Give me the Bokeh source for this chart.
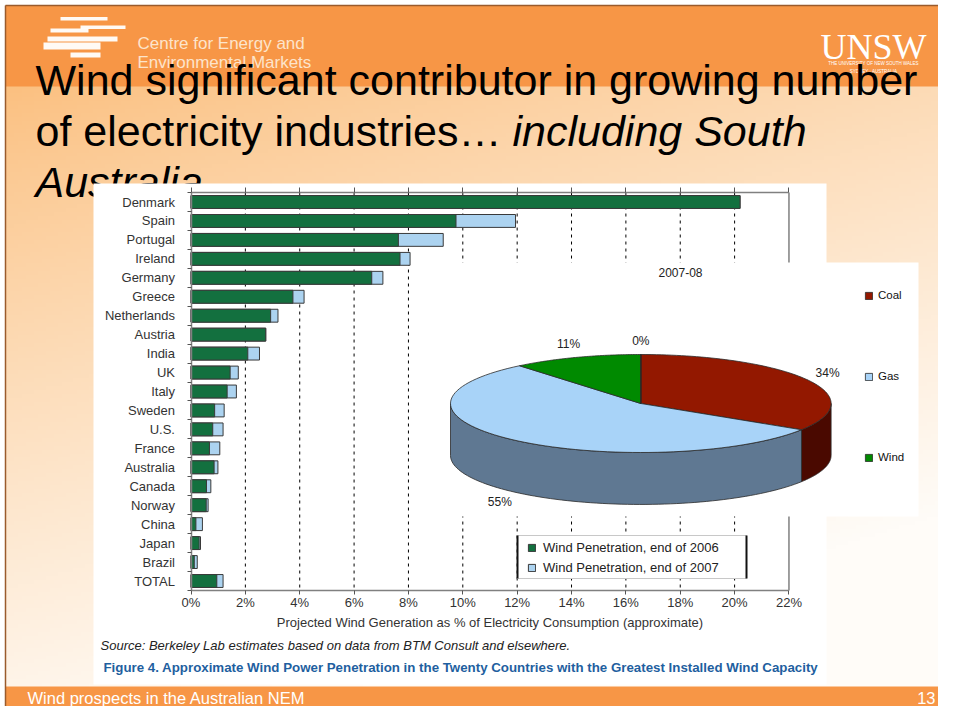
import numpy as np
from bokeh.plotting import figure
from bokeh.models import (Range1d, LinearAxis, FixedTicker, PrintfTickFormatter,
                          Legend, LegendItem, ColumnDataSource)
from bokeh.core.properties import value
from bokeh.embed import file_html
from bokeh.resources import INLINE

# ---------------- data ----------------
countries = ["Denmark", "Spain", "Portugal", "Ireland", "Germany", "Greece",
             "Netherlands", "Austria", "India", "UK", "Italy", "Sweden", "U.S.",
             "France", "Australia", "Canada", "Norway", "China", "Japan", "Brazil",
             "TOTAL"]
wind_2006 = [20.2, 9.75, 7.63, 7.69, 6.65, 3.75, 2.93, 2.75, 2.09, 1.44, 1.33,
             0.87, 0.80, 0.68, 0.85, 0.57, 0.56, 0.18, 0.30, 0.12, 0.95]
wind_2007 = [20.2, 11.94, 9.28, 8.06, 7.06, 4.16, 3.20, 2.75, 2.52, 1.74, 1.67,
             1.22, 1.18, 1.06, 0.99, 0.73, 0.63, 0.42, 0.35, 0.23, 1.18]
x_ticks = [0, 2, 4, 6, 8, 10, 12, 14, 16, 18, 20, 22]
bar_legend = ["Wind Penetration, end of 2006", "Wind Penetration, end of 2007"]
x_axis_label = "Projected Wind Generation as % of Electricity Consumption (approximate)"

pie_title = "2007-08"
pie_categories = ["Coal", "Gas", "Wind", ""]
pie_values = [34, 55, 11, 0]

title_1 = "Wind significant contributor in growing number"
title_2a = "of electricity industries\u2026 "
title_2b = "including South"
title_3 = "Australia"
source_text = "Source:  Berkeley Lab estimates based on data from BTM Consult and elsewhere."
caption_text = ("Figure 4. Approximate Wind Power Penetration in the Twenty Countries "
                "with the Greatest Installed Wind Capacity")
footer_text = "Wind prospects in the Australian NEM"
page_number = "13"

# ---------------- styles ----------------
GREEN = "#13703f"
BLUE = "#acd3f0"
ORANGE = "#f79646"
FONT = "Liberation Sans"
pie_top_colors = ["#931800", "#a8d3f8", "#008a00", "#7f7f7f"]
pie_side_colors = ["#4a0900", "#5f7892", "#004a00", "#555555"]
PIE_DEPTH = 1.06

W, H = 938, 706
X0, PX = 190.5, 27.18      # x of 0 %, pixels per %
Y0, PY = 201.5, 18.95      # y of first category, pixels per row
CX, CY, RX, RY = 640.3, 403.0, 190.3, 49.0   # pie centre / radii

p = figure(width=W, height=H, x_range=Range1d(0, W), y_range=Range1d(H, 0),
           x_axis_type=None, y_axis_type=None, toolbar_location=None,
           output_backend="svg", min_border=0, outline_line_color=None,
           background_fill_color="white", border_fill_color="white")
p.extra_x_ranges = {"bar": Range1d((0 - X0) / PX, (W - X0) / PX),
                    "pie": Range1d((0 - CX) / RX, (W - CX) / RX)}
p.extra_y_ranges = {"bar": Range1d((H - Y0) / PY, (0 - Y0) / PY),
                    "pie": Range1d((CY - H) / RY, (CY - 0) / RY)}

# ---------------- slide background ----------------
hh, ww = 177, 235
yy, xx = np.mgrid[0:hh, 0:ww]
pyy = (yy + 0.5) * H / hh
pxx = (xx + 0.5) * W / ww
t = np.clip(0.40 * (pxx / 954) + 0.85 * ((pyy - 85) / 600), 0, 1) ** 0.85
c0 = np.array([251, 192, 128.0])
c1 = np.array([255, 252, 248.0])
rgb = c0 + (c1 - c0) * t[..., None]
img = np.empty((hh, ww), dtype=np.uint32)
view = img.view(dtype=np.uint8).reshape((hh, ww, 4))
view[..., 0:3] = rgb.astype(np.uint8)
view[..., 3] = 255
p.image_rgba(image=[img], x=5, y=5, dw=W - 5, dh=H - 5)

# header & footer bands
p.quad(left=[5, 5], right=[W, W], top=[5, 686], bottom=[86, H],
       fill_color=ORANGE, line_color=None)
p.segment(x0=[5, 5], x1=[W, 5], y0=[5, 5], y1=[5, H], line_color="#9a5b2c",
          line_width=1.5)

# logo bars
logo_l = [60, 80, 50, 47, 43, 70]
logo_r = [107, 125, 88, 117, 100, 100]
logo_t = [16.5, 25, 28, 36, 42, 52]
logo_b = [20, 28.5, 32, 41, 49, 57]
p.quad(left=logo_l, right=logo_r, top=logo_t, bottom=logo_b,
       fill_color="white", line_color=None, fill_alpha=0.95)

p.text(x=[137, 137], y=[43, 62], text=["Centre for Energy and", "Environmental Markets"],
       text_font=value(FONT), text_font_size="17px", text_color="#fde4cb",
       text_baseline="middle")
p.text(x=[873], y=[46], text=["UNSW"], text_font=value("Liberation Serif"),
       text_font_size="36px", text_color="white", text_align="center",
       text_baseline="middle")
p.text(x=[873, 873], y=[63, 71],
       text=["THE UNIVERSITY OF NEW SOUTH WALES", "SYDNEY \u00b7 AUSTRALIA"],
       text_font=value(FONT), text_font_size="4.5px", text_color="white",
       text_align="center", text_baseline="middle")

# title
p.text(x=[35, 35], y=[79, 130], text=[title_1, title_2a], text_font=value(FONT),
       text_font_size="43px", text_color="black", text_baseline="middle")
p.text(x=[512, 35], y=[130, 181], text=[title_2b, title_3], text_font=value(FONT),
       text_font_size="43px", text_font_style="italic", text_color="black",
       text_baseline="middle")

# footer text
p.text(x=[27], y=[697], text=[footer_text], text_font=value(FONT),
       text_font_size="16.5px", text_color="white", text_baseline="middle")
p.text(x=[935], y=[697], text=[page_number], text_font=value(FONT),
       text_font_size="16.5px", text_color="white", text_baseline="middle",
       text_align="right")

# chart picture panel
p.quad(left=[93], right=[826], top=[183], bottom=[684], fill_color="white",
       line_color=None)

# ---------------- bar chart ----------------
n = len(countries)
src = ColumnDataSource(dict(idx=list(range(n)), country=countries,
                            v2006=wind_2006, v2007=wind_2007))
xmax = x_ticks[-1]
gx = x_ticks[1:-1]
p.segment(x0=gx, x1=gx, y0=[-0.5] * len(gx), y1=[n - 0.5] * len(gx),
          line_color="black", line_dash="3 4", line_width=1,
          x_range_name="bar", y_range_name="bar")
p.segment(x0=[xmax], x1=[xmax], y0=[-0.5], y1=[n - 0.5], line_color="#808080",
          line_width=1.5, x_range_name="bar", y_range_name="bar")

r07 = p.hbar(y="idx", left=0, right="v2007", height=0.68, source=src,
             fill_color=BLUE, line_color="#3a3a3a", line_width=1,
             x_range_name="bar", y_range_name="bar")
r06 = p.hbar(y="idx", left=0, right="v2006", height=0.68, source=src,
             fill_color=GREEN, line_color="#3a3a3a", line_width=1,
             x_range_name="bar", y_range_name="bar")

yax = LinearAxis(x_range_name="bar", y_range_name="bar", fixed_location=0,
                 ticker=FixedTicker(ticks=list(range(n)),
                                    minor_ticks=[i - 0.5 for i in range(n + 1)]),
                 major_label_overrides={i: c for i, c in enumerate(countries)},
                 bounds=(-0.5, n - 0.5),
                 major_tick_out=0, major_tick_in=0, minor_tick_out=4, minor_tick_in=0,
                 minor_tick_line_color="#555555", axis_line_color="#808080",
                 axis_line_width=1.5, major_label_standoff=12,
                 major_label_text_font=FONT, major_label_text_font_size="13px",
                 major_label_text_color="#333333")
p.add_layout(yax, "left")

xax = LinearAxis(x_range_name="bar", y_range_name="bar", fixed_location=n - 0.5,
                 ticker=FixedTicker(ticks=x_ticks, minor_ticks=[]),
                 formatter=PrintfTickFormatter(format="%d%%"),
                 bounds=(0, xmax), axis_label=x_axis_label,
                 major_tick_out=4, major_tick_in=0, major_tick_line_color="#555555",
                 axis_line_color="#808080", axis_line_width=1.5,
                 major_label_standoff=1, major_label_text_font=FONT,
                 major_label_text_font_size="13px", major_label_text_color="#333333",
                 axis_label_standoff=1, axis_label_text_font=FONT,
                 axis_label_text_font_size="13px", axis_label_text_font_style="normal",
                 axis_label_text_color="#333333")
p.add_layout(xax, "below")

tax = LinearAxis(x_range_name="bar", y_range_name="bar", fixed_location=-0.5,
                 ticker=FixedTicker(ticks=x_ticks, minor_ticks=[]),
                 bounds=(0, xmax), major_tick_out=5, major_tick_in=0,
                 major_tick_line_color="#555555", axis_line_color="#808080",
                 axis_line_width=1.5, major_label_text_alpha=0)
p.add_layout(tax, "above")

# legend box
p.quad(left=[517], right=[746], top=[535], bottom=[578], fill_color="white",
       line_color="#c8c8c8", line_width=1)
p.segment(x0=[517, 746], x1=[517, 746], y0=[535, 535], y1=[578, 578],
          line_color="#111111", line_width=2)

bar_leg = Legend(items=[LegendItem(label=bar_legend[0], renderers=[r06]),
                        LegendItem(label=bar_legend[1], renderers=[r07])],
                 location=(527, H - 577), padding=2, spacing=0, margin=0,
                 label_height=20, glyph_width=9, glyph_height=9, label_standoff=7,
                 label_text_font=FONT, label_text_font_size="13px",
                 label_text_color="#222222", background_fill_alpha=0,
                 border_line_color=None)
p.add_layout(bar_leg, "center")

# source & caption
p.text(x=[100], y=[645], text=[source_text], text_font=value(FONT),
       text_font_size="13px", text_font_style="italic", text_color="#222222",
       text_baseline="middle")
p.text(x=[103], y=[667], text=[caption_text], text_font=value(FONT),
       text_font_size="13.3px", text_font_style="bold", text_color="#1f5fa0",
       text_baseline="middle")

# ---------------- pie chart ----------------
p.quad(left=[445], right=[918], top=[262], bottom=[516], fill_color="white",
       line_color=None)
p.text(x=[680], y=[272], text=[pie_title], text_font=value(FONT),
       text_font_size="12px", text_color="#222222", text_align="center",
       text_baseline="middle")

total = float(sum(pie_values))
bounds_deg = np.concatenate([[0], np.cumsum(pie_values) / total * 360.0])
side_xs, side_ys, side_cols = [], [], []
top_xs, top_ys = [], []
lab_x, lab_y, lab_t = [], [], []
for i, v in enumerate(pie_values):
    a0, a1 = bounds_deg[i], bounds_deg[i + 1]
    th = np.radians(np.linspace(a0, a1, 80))
    top_xs.append(np.concatenate([[0], np.sin(th)]).tolist())
    top_ys.append(np.concatenate([[0], np.cos(th)]).tolist())
    s0, s1 = max(a0, 90.0), min(a1, 270.0)
    if s1 > s0:
        ts = np.radians(np.linspace(s0, s1, 80))
        xs_ = np.concatenate([np.sin(ts), np.sin(ts)[::-1]])
        ys_ = np.concatenate([np.cos(ts), np.cos(ts)[::-1] - PIE_DEPTH])
        side_xs.append(xs_.tolist())
        side_ys.append(ys_.tolist())
        side_cols.append(pie_side_colors[i])
    mid = np.radians((a0 + a1) / 2)
    lx, ly = 1.12 * np.sin(mid), 1.28 * np.cos(mid)
    if ly < 0:
        ly -= PIE_DEPTH
    lab_x.append(lx)
    lab_y.append(ly)
    lab_t.append(f"{v}%")

p.patches(xs=side_xs, ys=side_ys, fill_color=side_cols, line_color="#2a2a2a",
          line_width=0.8, x_range_name="pie", y_range_name="pie")
tops = p.patches(xs=top_xs, ys=top_ys, fill_color=pie_top_colors[:len(pie_values)],
                 line_color="#2a2a2a", line_width=0.8,
                 x_range_name="pie", y_range_name="pie")
p.text(x=lab_x, y=lab_y, text=lab_t, text_font=value(FONT), text_font_size="12px",
       text_color="#222222", text_align="center", text_baseline="middle",
       x_range_name="pie", y_range_name="pie")

pie_items = [LegendItem(label=c, renderers=[tops], index=i)
             for i, c in enumerate(pie_categories) if c]
pie_leg = Legend(items=pie_items, location=(864, H - 463.5), padding=0, spacing=68,
                 margin=0, label_height=13, glyph_width=9, glyph_height=9,
                 label_standoff=5, label_text_font=FONT, label_text_font_size="11.5px",
                 label_text_color="#111111", background_fill_alpha=0,
                 border_line_color=None)
p.add_layout(pie_leg, "center")

open("out.html", "w").write(file_html(p, INLINE))
